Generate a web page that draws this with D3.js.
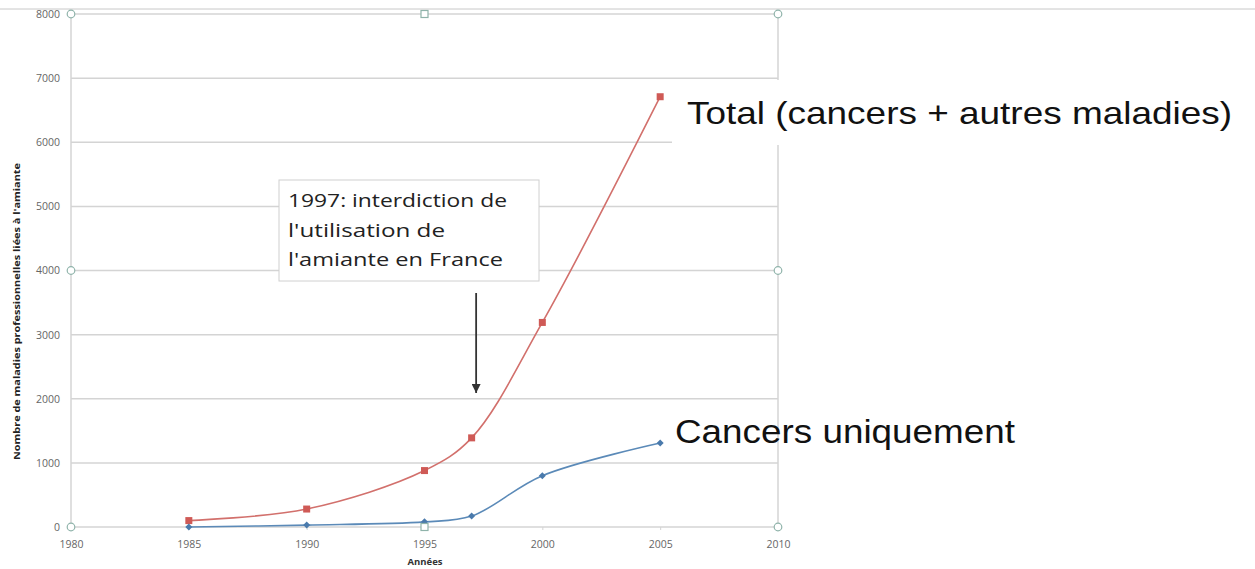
<!DOCTYPE html>
<html><head><meta charset="utf-8">
<script src="https://cdn.jsdelivr.net/npm/d3@7"></script>
<style>body{margin:0;background:#fff}svg{display:block}</style>
</head><body>
<svg id="c" width="1255" height="569"></svg>
<script>
const years = [1985, 1990, 1995, 1997, 2000, 2005];
const totalValues = [100, 280, 880, 1390, 3190, 6710];
const cancerValues = [0, 30, 80, 170, 800, 1310];
const yTicks = [0, 1000, 2000, 3000, 4000, 5000, 6000, 7000, 8000];
const xTicks = [1980, 1985, 1990, 1995, 2000, 2005, 2010];
const yTitle = "Nombre de maladies professionnelles liées à l'amiante";
const xTitle = "Années";
const noteLines = ["1997: interdiction de", "l'utilisation de", "l'amiante en France"];
const labelTotal = "Total (cancers + autres maladies)";
const labelCancer = "Cancers uniquement";

const svg = d3.select("#c");
const x = d3.scaleLinear().domain([1980, 2010]).range([71, 778]);
const y = d3.scaleLinear().domain([0, 8000]).range([527, 14]);
const grid = "#d4d4d4";

// gridlines
svg.append("g").selectAll("line").data(yTicks).join("line")
  .attr("x1", x(1980)).attr("x2", x(2010))
  .attr("y1", d => y(d)).attr("y2", d => y(d))
  .attr("stroke", grid).attr("stroke-width", 1.5);
// plot borders
svg.append("line").attr("x1",x(1980)).attr("x2",x(1980)).attr("y1",y(8000)).attr("y2",y(0)).attr("stroke",grid).attr("stroke-width",1.5);
svg.append("line").attr("x1",x(2010)).attr("x2",x(2010)).attr("y1",y(8000)).attr("y2",y(0)).attr("stroke",grid).attr("stroke-width",1.5);

// axes labels
const yAxis = d3.axisLeft(y).tickValues(yTicks).tickSize(0).tickPadding(11).tickFormat(d3.format("d"));
const ga = svg.append("g").attr("transform", `translate(${x(1980)},0)`).call(yAxis);
ga.select(".domain").remove();
ga.selectAll("text").attr("font-family","Open Sans, sans-serif").attr("font-size",10.5).attr("fill","#666");
const xAxis = d3.axisBottom(x).tickValues(xTicks).tickSize(3).tickPadding(11).tickFormat(d3.format("d"));
const gx = svg.append("g").attr("transform", `translate(0,${y(0)})`).call(xAxis);
gx.select(".domain").remove();
gx.selectAll("line").attr("stroke", grid);
gx.selectAll("text").attr("font-family","Open Sans, sans-serif").attr("font-size",10.5).attr("fill","#666");

// slide top edge (clips the top of the 8000 label)
svg.append("rect").attr("x",0).attr("y",0).attr("width",1255).attr("height",9).attr("fill","#fff");
svg.append("line").attr("x1",0).attr("x2",1255).attr("y1",9).attr("y2",9).attr("stroke","#c8c8c8").attr("stroke-width",1);

// axis titles
svg.append("text").attr("transform", `translate(20,${(163+460)/2}) rotate(-90)`)
  .attr("text-anchor","middle").attr("font-family","Open Sans, sans-serif").attr("font-weight","bold")
  .attr("font-size",8.5).attr("fill","#222").attr("textLength",297).attr("lengthAdjust","spacingAndGlyphs").text(yTitle);
svg.append("text").attr("x", 425).attr("y", 565).attr("text-anchor","middle")
  .attr("font-family","Open Sans, sans-serif").attr("font-weight","bold").attr("font-size",9.5).attr("fill","#333").text(xTitle);

// lines
const line = d3.line().curve(d3.curveCatmullRom.alpha(0.5)).x(d => x(d[0])).y(d => y(d[1]));
const totData = years.map((yr,i) => [yr, totalValues[i]]);
const canData = years.map((yr,i) => [yr, cancerValues[i]]);
svg.append("path").attr("d", line(totData)).attr("fill","none").attr("stroke","#d2706c").attr("stroke-width",1.6);
svg.append("path").attr("d", line(canData)).attr("fill","none").attr("stroke","#5b8ab8").attr("stroke-width",1.6);
svg.append("g").selectAll("rect").data(totData).join("rect")
  .attr("x", d => x(d[0]) - 3.5).attr("y", d => y(d[1]) - 3.5).attr("width",7).attr("height",7)
  .attr("fill","#cf5a56");
svg.append("g").selectAll("path").data(canData).join("path")
  .attr("d", d => `M${x(d[0])},${y(d[1])-3.5}l3.5,3.5l-3.5,3.5l-3.5,-3.5z`)
  .attr("fill","#4a7aac");

// selection handles
const hc = "#8fb3aa";
const circles = [[1980,8000],[2010,8000],[1980,4000],[2010,4000],[1980,0],[2010,0]];
svg.append("g").selectAll("circle").data(circles).join("circle")
  .attr("cx", d => x(d[0])).attr("cy", d => y(d[1])).attr("r",3.8)
  .attr("fill","#fff").attr("stroke",hc).attr("stroke-width",1.2);
const squares = [[1995,8000],[1995,0]];
svg.append("g").selectAll("rect").data(squares).join("rect")
  .attr("x", d => x(d[0]) - 3.5).attr("y", d => y(d[1]) - 3.5).attr("width",7).attr("height",7)
  .attr("fill","#fff").attr("stroke",hc).attr("stroke-width",1.2);

// annotation box
svg.append("rect").attr("x",279).attr("y",180).attr("width",260).attr("height",101)
  .attr("fill","#fff").attr("stroke","#d0d0d0").attr("stroke-width",1);
const noteW = [219, 157, 215];
svg.append("g").selectAll("text").data(noteLines).join("text")
  .attr("x", 288).attr("y", (d,i) => 207 + i*29.5)
  .attr("font-family","Open Sans, sans-serif").attr("font-size",18).attr("fill","#222")
  .attr("textLength",(d,i)=>noteW[i]).attr("lengthAdjust","spacingAndGlyphs")
  .text(d => d);
// arrow
svg.append("defs").append("marker").attr("id","ah").attr("viewBox","0 0 10 10").attr("refX",10).attr("refY",5)
  .attr("markerWidth",5).attr("markerHeight",5).attr("orient","auto")
  .append("path").attr("d","M0,0L10,5L0,10z").attr("fill","#333");
svg.append("line").attr("x1", x(1997)+4.5).attr("x2", x(1997)+4.5).attr("y1",293).attr("y2",393)
  .attr("stroke","#333").attr("stroke-width",1.8).attr("marker-end","url(#ah)");

// big labels
svg.append("rect").attr("x",672).attr("y",80).attr("width",570).attr("height",65).attr("fill","#fff");
svg.append("text").attr("x",687).attr("y",124).attr("font-family","Liberation Sans, Arial, sans-serif")
  .attr("font-size",32).attr("fill","#111").attr("textLength",545).attr("lengthAdjust","spacingAndGlyphs").text(labelTotal);
svg.append("text").attr("x",675).attr("y",443).attr("font-family","Liberation Sans, Arial, sans-serif")
  .attr("font-size",33).attr("fill","#111").attr("textLength",340).attr("lengthAdjust","spacingAndGlyphs").text(labelCancer);
</script>
</body></html>
